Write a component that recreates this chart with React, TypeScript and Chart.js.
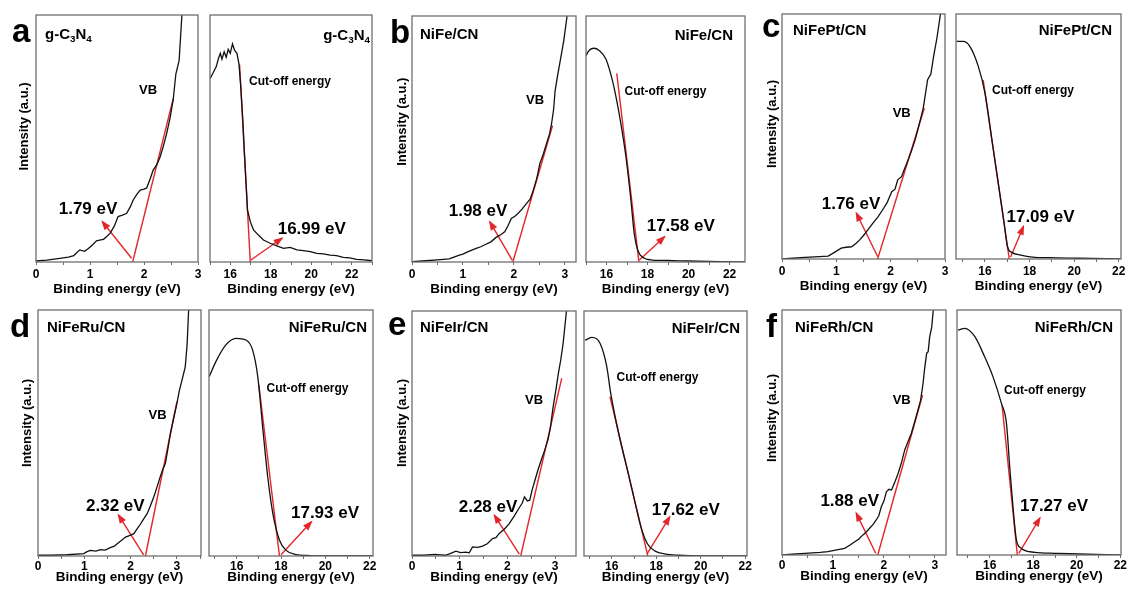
import React, { useEffect, useRef } from "react";
import { Chart, registerables } from "chart.js";

Chart.register(...registerables);

const FONT = "'Liberation Sans', Arial, Helvetica, sans-serif";
const RED = "#e3262b";
const FRAME = "#6f6f6f";

// ---- valence-band spectra (binding energy, eV / intensity, a.u.) ----
const vbEnergyA = [0, 0.2, 0.44, 0.6, 0.7, 0.81, 0.9, 0.97, 1.05, 1.12, 1.2, 1.25, 1.32, 1.37, 1.45, 1.52, 1.6, 1.68, 1.75, 1.8, 1.87, 1.93, 2.0, 2.05, 2.12, 2.17, 2.24, 2.3, 2.36, 2.42, 2.48, 2.54, 2.59, 2.65, 2.7, 2.73];
const vbIntensityA = [0.4, 0.8, 1.5, 2.0, 2.6, 4.9, 4.3, 5.5, 7.0, 8.6, 9.0, 9.2, 10.5, 11.6, 14.5, 18.4, 19.0, 19.7, 22.5, 25.1, 27.5, 29.1, 29.5, 30, 34, 37.2, 39.5, 42.6, 47, 52.1, 58, 65.6, 76.1, 81.5, 99.3, 110];

const vbEnergyB = [0, 0.27, 0.5, 0.73, 0.85, 0.93, 1.0, 1.06, 1.15, 1.26, 1.35, 1.42, 1.55, 1.65, 1.75, 1.82, 1.88, 1.95, 2.02, 2.08, 2.16, 2.25, 2.32, 2.38, 2.45, 2.51, 2.58, 2.64, 2.7, 2.74, 2.78, 2.81, 2.86, 2.91, 2.98, 3.04, 3.08];
const vbIntensityB = [0.1, 0.5, 0.9, 1.3, 2.2, 2.8, 3.2, 3.8, 4.6, 5.5, 6.2, 6.9, 8.2, 10.0, 11.2, 12.3, 14.5, 17.7, 18.6, 19.7, 21.5, 23.8, 25.5, 29.1, 34, 40.0, 44, 48.1, 52, 56.2, 62, 69.6, 76, 81.8, 90, 99.3, 108];

const vbEnergyC = [0, 0.2, 0.42, 0.6, 0.85, 0.95, 1.09, 1.18, 1.28, 1.36, 1.43, 1.5, 1.58, 1.67, 1.77, 1.85, 1.93, 2.02, 2.08, 2.13, 2.2, 2.25, 2.31, 2.38, 2.45, 2.52, 2.6, 2.68, 2.74, 2.79, 2.85, 2.91, 2.95];
const vbIntensityC = [0, 0.3, 0.7, 0.9, 1.2, 2.5, 4.4, 4.8, 5.0, 6.3, 7.8, 9.6, 11.9, 14.5, 17.3, 20.0, 22.8, 27.5, 28.5, 32.3, 33.6, 36.5, 39.8, 44, 48.6, 54.5, 61.6, 73.2, 75.5, 82.7, 90, 99, 108];

const vbEnergyD = [0, 0.3, 0.63, 0.99, 1.06, 1.13, 1.25, 1.35, 1.45, 1.56, 1.65, 1.71, 1.8, 1.89, 2.0, 2.07, 2.14, 2.21, 2.28, 2.36, 2.43, 2.5, 2.57, 2.64, 2.7, 2.75, 2.8, 2.86, 2.93, 3.0, 3.05, 3.11, 3.18, 3.22, 3.25, 3.28];
const vbIntensityD = [0.3, 0.3, 0.5, 1.0, 1.8, 2.3, 2.0, 2.6, 2.4, 3.4, 4.0, 5.0, 6.3, 7.7, 8.5, 9.1, 11.0, 12.9, 15.0, 17.3, 20.5, 24.0, 28, 32.2, 35.5, 37.6, 43, 49.8, 56, 62.0, 67, 71.5, 76.9, 86, 98.7, 108];

const vbEnergyE = [0, 0.25, 0.49, 0.6, 0.7, 0.8, 0.92, 1.02, 1.13, 1.2, 1.27, 1.38, 1.48, 1.58, 1.69, 1.76, 1.83, 1.94, 2.04, 2.15, 2.26, 2.31, 2.36, 2.42, 2.47, 2.52, 2.57, 2.64, 2.71, 2.78, 2.85, 2.9, 2.96, 3.02, 3.07, 3.12, 3.17, 3.24, 3.27];
const vbIntensityE = [0.3, 0.3, 0.7, 0.5, 0.3, 1.0, 2.0, 1.4, 1.6, 1.3, 3.7, 3.5, 4.0, 5.0, 7.1, 7.5, 9.2, 11.0, 13.2, 16.5, 20.0, 21.5, 24.1, 22.5, 22.8, 27, 30.3, 35, 39.1, 43, 47.3, 52, 60.9, 68, 74.5, 80, 86.8, 100, 108];

const vbEnergyF = [0, 0.2, 0.45, 0.6, 0.75, 0.9, 1.05, 1.23, 1.33, 1.43, 1.51, 1.59, 1.66, 1.72, 1.79, 1.85, 1.9, 1.95, 2.0, 2.05, 2.1, 2.15, 2.22, 2.28, 2.35, 2.41, 2.47, 2.54, 2.6, 2.67, 2.72, 2.77, 2.8, 2.84, 2.87, 2.9, 2.94, 2.97, 3.0];
const vbIntensityF = [0, 0.3, 0.7, 0.9, 1.1, 1.4, 2.0, 2.7, 4.0, 5.4, 6.5, 8.2, 9.5, 10.9, 12.5, 14.3, 16.0, 19.7, 22, 25.8, 26.8, 26.5, 30, 33.3, 38, 42.9, 46, 49.7, 54, 59.2, 63, 70.1, 76, 82.3, 83, 89.1, 93, 100, 108];

// ---- secondary-electron cut-off spectra ----
const cutEnergyA = [15.01, 15.18, 15.31, 15.42, 15.51, 15.59, 15.7, 15.8, 15.9, 16.0, 16.11, 16.21, 16.33, 16.43, 16.52, 16.62, 16.7, 16.79, 16.85, 16.99, 17.15, 17.39, 17.64, 17.97, 18.3, 18.63, 18.96, 19.29, 19.61, 19.95, 20.27, 20.6, 20.93, 21.25, 21.58, 21.9, 22.24, 22.6, 23.0];
const cutIntensityA = [74.3, 77.0, 79.1, 82.5, 84.5, 82.1, 85.1, 82.9, 86.1, 84.5, 88.3, 85.8, 84.5, 80.2, 71.0, 57.5, 44.0, 30.5, 21.1, 16.3, 13.0, 10.9, 8.9, 7.6, 6.5, 5.5, 5.9, 4.9, 4.6, 4.2, 3.5, 3.3, 2.8, 2.6, 1.9, 1.7, 1.1, 0.9, 0.5];

const cutEnergyB = [14.95, 15.15, 15.39, 15.64, 15.97, 16.29, 16.5, 16.7, 16.95, 17.19, 17.35, 17.52, 17.76, 18.25, 19.0, 19.89, 21.0, 22.75];
const cutIntensityB = [83.2, 86.0, 86.9, 86.0, 82.5, 73.7, 65.5, 56.2, 42.6, 25.1, 11.6, 4.9, 1.9, 0.8, 0.6, 0.4, 0.2, 0];

const cutEnergyC = [14.73, 15.02, 15.32, 15.7, 16.0, 16.31, 16.62, 16.84, 17.01, 17.2, 17.6, 18.25, 19.2, 20.2, 22.08];
const cutIntensityC = [88.8, 88.8, 86.8, 78.6, 67.7, 48.6, 29.5, 15.9, 5.0, 2.7, 1.6, 0.7, 0.5, 0.3, 0];

const cutEnergyD = [14.76, 15.06, 15.51, 15.97, 16.42, 16.72, 16.95, 17.17, 17.4, 17.63, 17.93, 18.23, 18.68, 19.2, 19.59, 22.15];
const cutIntensityD = [72.9, 79.0, 85.8, 88.5, 87.8, 83.7, 72.9, 52.5, 32.2, 17.3, 6.4, 2.3, 0.6, 0.2, 0, 0];

const cutEnergyE = [14.8, 15.1, 15.47, 15.77, 15.95, 16.31, 16.74, 17.02, 17.31, 17.6, 17.95, 18.4, 19.0, 20.0, 22.08];
const cutIntensityE = [88.1, 89.2, 86.8, 77.5, 66.5, 50.0, 33.7, 22.8, 11.9, 5.0, 2.0, 0.8, 0.3, 0, 0];

const cutEnergyF = [14.55, 14.86, 15.32, 15.77, 16.15, 16.54, 16.77, 16.92, 17.07, 17.23, 17.46, 18.07, 19.0, 20.07, 22.0];
const cutIntensityF = [91.8, 92.5, 89.1, 80.9, 72.8, 61.9, 53.8, 36.0, 19.7, 6.1, 2.7, 1.1, 0.7, 0.4, 0];

// ---- fitted onsets and construction lines ----
const vbOnset = [1.79, 1.98, 1.76, 2.32, 2.28, 1.88];
const cutOffOnset = [16.99, 17.58, 17.09, 17.93, 17.62, 17.27];
const vbTangentTop = [[2.54, 66], [2.76, 55.5], [2.62, 61.6], [3.0, 62.7], [3.14, 72.5], [2.76, 65.3]];
const cutTangentTop = [[16.46, 80], [16.5, 76.7], [15.92, 73], [17.0, 69.5], [15.92, 65], [16.57, 61.2]];
const vbArrowFrom = [[1.77, 1.5], [1.97, 0.7], [1.76, 1.0], [2.28, 0.5], [2.25, 0.8], [1.84, 0.7]];
const vbArrowTo = [[1.23, 16.3], [1.53, 16.3], [1.37, 18.7], [1.74, 16.6], [1.73, 16.6], [1.46, 17.0]];
const cutArrowFrom = [[17.02, 0.8], [17.6, 0.8], [17.15, 0.8], [18.0, 0.5], [17.58, 0.8], [17.34, 0.7]];
const cutArrowTo = [[18.55, 9.6], [18.82, 10.2], [17.72, 13.2], [19.36, 13.8], [18.6, 15.9], [18.3, 15.0]];

type Seg = { t: string; sub?: boolean };
const sampleNames: Seg[][] = [
  [{ t: "g-C" }, { t: "3", sub: true }, { t: "N" }, { t: "4", sub: true }],
  [{ t: "NiFe/CN" }],
  [{ t: "NiFePt/CN" }],
  [{ t: "NiFeRu/CN" }],
  [{ t: "NiFeIr/CN" }],
  [{ t: "NiFeRh/CN" }],
];
const panelLetters = ["a", "b", "c", "d", "e", "f"];

type Txt = {
  x: number;
  y: number;
  segs: Seg[];
  size: number;
  align: CanvasTextAlign;
  baseline?: CanvasTextBaseline;
  rotate?: boolean;
};

interface Panel {
  box: [number, number, number, number];
  padL: number;
  row: number;
  xMin: number;
  xMax: number;
  major: number;
  cx: number[];
  cy: number[];
  smooth: boolean;
  onset: number;
  tanTop: number[];
  arrowFrom: number[];
  arrowTo: number[];
  texts: Txt[];
}

const T = (x: number, y: number, s: string | Seg[], size: number, align: CanvasTextAlign = "center", extra: Partial<Txt> = {}): Txt => ({
  x,
  y,
  segs: typeof s === "string" ? [{ t: s }] : s,
  size,
  align,
  ...extra,
});

const eV = (v: number) => `${v.toFixed(2)} eV`;

function vbPanel(i: number, box: [number, number, number, number], xMax: number, cx: number[], cy: number[], letterPos: number[], namePos: number[], vbPos: number[], valPos: number[], yTitlePos: number[]): Panel {
  return {
    box,
    padL: 40,
    row: i < 3 ? 0 : 1,
    xMin: 0,
    xMax,
    major: 1,
    cx,
    cy,
    smooth: false,
    onset: vbOnset[i],
    tanTop: vbTangentTop[i],
    arrowFrom: vbArrowFrom[i],
    arrowTo: vbArrowTo[i],
    texts: [
      T(letterPos[0], letterPos[1], panelLetters[i], 33, "left", { baseline: "alphabetic" }),
      T(namePos[0], namePos[1], sampleNames[i], 15, "left"),
      T(vbPos[0], vbPos[1], "VB", 13),
      T(valPos[0], valPos[1], eV(vbOnset[i]), 17),
      T(yTitlePos[0], yTitlePos[1], "Intensity (a.u.)", 13, "center", { rotate: true }),
    ],
  };
}

function cutPanel(i: number, box: [number, number, number, number], xMin: number, xMax: number, cx: number[], cy: number[], smooth: boolean, namePos: number[], cutPos: number[], valPos: number[]): Panel {
  return {
    box,
    padL: 8,
    row: i < 3 ? 0 : 1,
    xMin,
    xMax,
    major: 2,
    cx,
    cy,
    smooth,
    onset: cutOffOnset[i],
    tanTop: cutTangentTop[i],
    arrowFrom: cutArrowFrom[i],
    arrowTo: cutArrowTo[i],
    texts: [
      T(namePos[0], namePos[1], sampleNames[i], 15, "right"),
      T(cutPos[0], cutPos[1], "Cut-off energy", 12),
      T(valPos[0], valPos[1], eV(cutOffOnset[i]), 17),
    ],
  };
}

const panels: Panel[] = [
  vbPanel(0, [36, 15, 198, 262], 3, vbEnergyA, vbIntensityA, [12, 42], [45, 35], [148, 90], [88, 209], [24, 126.5]),
  cutPanel(0, [210, 15, 372, 262], 15, 23, cutEnergyA, cutIntensityA, false, [370, 36], [290, 81.7], [311.7, 229]),
  vbPanel(1, [412, 16, 576, 262], 3.22, vbEnergyB, vbIntensityB, [390, 43], [420, 35], [535, 100], [478, 211], [402, 121.7]),
  cutPanel(1, [586, 16, 745, 262], 15, 22.75, cutEnergyB, cutIntensityB, true, [733, 36], [665.5, 91.7], [680.7, 226.7]),
  vbPanel(2, [782, 14, 945, 259], 3, vbEnergyC, vbIntensityC, [762, 37], [793, 31], [901.7, 113], [851, 204], [772, 124]),
  cutPanel(2, [956, 14, 1121, 259], 14.7, 22.1, cutEnergyC, cutIntensityC, true, [1112, 31], [1033, 90.5], [1040.5, 217.5]),
  vbPanel(3, [38, 310, 201, 556], 3.52, vbEnergyD, vbIntensityD, [10, 337], [47, 327.5], [157.5, 415], [115.3, 506.7], [27, 423]),
  cutPanel(3, [209, 310, 373, 556], 14.75, 22.15, cutEnergyD, cutIntensityD, true, [367, 327.5], [307.5, 388.3], [325, 513.3]),
  vbPanel(4, [412, 311, 576, 556], 3.44, vbEnergyE, vbIntensityE, [388, 335], [420, 327.5], [534, 400], [488, 507.5], [402, 423]),
  cutPanel(4, [584, 311, 747, 556], 14.75, 22.08, cutEnergyE, cutIntensityE, true, [740, 329], [657.5, 377.5], [685.8, 510]),
  vbPanel(5, [782, 310, 946, 555], 3.22, vbEnergyF, vbIntensityF, [766, 337], [795, 327.5], [901.7, 400], [849.7, 501.7], [772, 418]),
  cutPanel(5, [957, 310, 1121, 555], 14.5, 22.03, cutEnergyF, cutIntensityF, true, [1113, 327.5], [1045, 391], [1054, 506.7]),
];

const PAD_T = 14;
const PAD_R = 14;
const AXIS_H = [35, 29];
const TICK_PAD = [2, 0];

function drawSegs(ctx: CanvasRenderingContext2D, segs: Seg[], x: number, y: number, size: number, align: CanvasTextAlign, baseline: CanvasTextBaseline) {
  const subSize = size * 0.66;
  const widths = segs.map((s) => {
    ctx.font = `bold ${s.sub ? subSize : size}px ${FONT}`;
    return ctx.measureText(s.t).width;
  });
  const total = widths.reduce((a, b) => a + b, 0);
  let cx = align === "right" ? x - total : align === "center" ? x - total / 2 : x;
  ctx.textAlign = "left";
  ctx.textBaseline = baseline;
  segs.forEach((s, k) => {
    ctx.font = `bold ${s.sub ? subSize : size}px ${FONT}`;
    ctx.fillText(s.t, cx, s.sub ? y + size * 0.28 : y);
    cx += widths[k];
  });
}

function PanelChart({ p }: { p: Panel }) {
  const ref = useRef<HTMLCanvasElement>(null);
  const [l, t, r, b] = p.box;
  const axisH = AXIS_H[p.row];
  const left = l - p.padL;
  const top = t - PAD_T;
  const w = r - l + p.padL + PAD_R;
  const h = b - t + PAD_T + axisH;

  useEffect(() => {
    const canvas = ref.current;
    if (!canvas) return;
    const decor = {
      id: "decor",
      afterDatasetsDraw(chart: Chart) {
        const ctx = chart.ctx;
        const ca = chart.chartArea;
        ctx.save();
        ctx.strokeStyle = FRAME;
        ctx.lineWidth = 1.3;
        ctx.strokeRect(ca.left, ca.top, ca.right - ca.left, ca.bottom - ca.top);

        // arrowhead at the end of the pointer line
        const pts = chart.getDatasetMeta(2).data as any[];
        const p0 = pts[pts.length - 2];
        const p1 = pts[pts.length - 1];
        const ang = Math.atan2(p1.y - p0.y, p1.x - p0.x);
        const len = 8;
        const half = 3.6;
        ctx.fillStyle = RED;
        ctx.beginPath();
        ctx.moveTo(p1.x + Math.cos(ang) * 2, p1.y + Math.sin(ang) * 2);
        ctx.lineTo(p1.x - Math.cos(ang) * len - Math.sin(ang) * half, p1.y - Math.sin(ang) * len + Math.cos(ang) * half);
        ctx.lineTo(p1.x - Math.cos(ang) * len + Math.sin(ang) * half, p1.y - Math.sin(ang) * len - Math.cos(ang) * half);
        ctx.closePath();
        ctx.fill();

        ctx.fillStyle = "#000";
        p.texts.forEach((tx) => {
          const x = tx.x - left;
          const y = tx.y - top;
          if (tx.rotate) {
            ctx.save();
            ctx.translate(x, y);
            ctx.rotate(-Math.PI / 2);
            drawSegs(ctx, tx.segs, 0, 0, tx.size, "center", "middle");
            ctx.restore();
          } else {
            drawSegs(ctx, tx.segs, x, y, tx.size, tx.align, tx.baseline || "middle");
          }
        });
        ctx.restore();
      },
    };

    const major = p.major;
    const chart = new Chart(canvas, {
      type: "line",
      data: {
        datasets: [
          {
            data: p.cx.map((x, i) => ({ x, y: p.cy[i] })),
            borderColor: "#111",
            borderWidth: 1.3,
            pointRadius: 0,
            tension: 0,
            cubicInterpolationMode: p.smooth ? "monotone" : "default",
          },
          {
            data: [
              { x: p.tanTop[0], y: p.tanTop[1] },
              { x: p.onset, y: 0 },
            ],
            borderColor: RED,
            borderWidth: 1.4,
            pointRadius: 0,
          },
          {
            data: [
              { x: p.arrowFrom[0], y: p.arrowFrom[1] },
              { x: p.arrowTo[0], y: p.arrowTo[1] },
            ],
            borderColor: RED,
            borderWidth: 1.4,
            pointRadius: 0,
          },
        ],
      },
      options: {
        animation: false,
        responsive: false,
        maintainAspectRatio: false,
        events: [],
        layout: { padding: { left: p.padL, right: PAD_R, top: PAD_T, bottom: 0 } },
        plugins: { legend: { display: false }, tooltip: { enabled: false } },
        scales: {
          x: {
            type: "linear",
            position: "bottom",
            min: p.xMin,
            max: p.xMax,
            afterFit: (s: any) => {
              s.height = axisH;
            },
            ticks: {
              stepSize: major / 2,
              autoSkip: false,
              maxRotation: 0,
              includeBounds: false,
              padding: TICK_PAD[p.row],
              color: "#000",
              font: { family: FONT, size: 12, weight: "bold", lineHeight: 1.2 },
              callback: (v: any) => {
                const q = Number(v) / major;
                return Math.abs(q - Math.round(q)) < 1e-6 ? String(Math.round(Number(v))) : "";
              },
            },
            grid: { drawOnChartArea: false, drawTicks: true, tickLength: 3, color: FRAME, lineWidth: 1 },
            border: { display: false },
            title: {
              display: true,
              text: "Binding energy (eV)",
              color: "#000",
              font: { family: FONT, size: 13.5, weight: "bold", lineHeight: 1.2 },
              padding: 0,
            },
          },
          y: { display: false, min: 0, max: 100 },
        },
      },
      plugins: [decor],
    } as any);
    return () => chart.destroy();
  }, []);

  return <canvas ref={ref} width={w} height={h} style={{ position: "absolute", left, top, width: w, height: h }} />;
}

export default function App() {
  return (
    <div style={{ position: "absolute", left: 0, top: 0, width: 1127, height: 592, background: "#fff", overflow: "hidden" }}>
      {panels.map((p, i) => (
        <PanelChart key={i} p={p} />
      ))}
    </div>
  );
}
